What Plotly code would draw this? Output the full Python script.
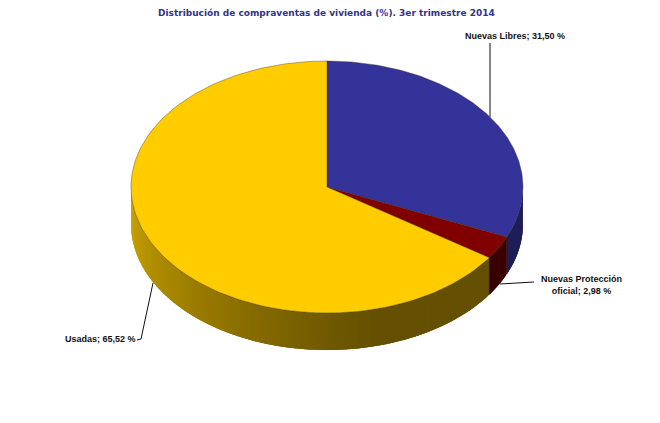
import numpy as np
import plotly.graph_objects as go

categories = ["Nuevas Libres", "Nuevas Protección oficial", "Usadas"]
values = [31.50, 2.98, 65.52]
value_labels = ["31,50 %", "2,98 %", "65,52 %"]
title_text = "Distribución de compraventas de vivienda (%). 3er trimestre 2014"

top_colors = ["#333399", "#800000", "#ffcc00"]
# side shade per slice: colour at 90 deg (right) and at 270 deg (left)
side_dark = {0: (30, 30, 88), 1: (58, 0, 0), 2: (100, 80, 0)}
side_light = {0: (30, 30, 88), 1: (58, 0, 0), 2: (208, 167, 0)}

# pie geometry, in page pixels
CX, CY, RX, RY, DEPTH = 327, 187, 196, 126, 37
# the page body has an 8px margin, so the plot starts at 8,8
PAGE_MARGIN = 8


def rim(t_deg):
    t = np.radians(t_deg)
    return CX + RX * np.sin(t), CY - RY * np.cos(t)


fig = go.Figure()

# slice angles from the values, clockwise from 12 o'clock
edges = np.concatenate([[0], np.cumsum(values)]) * 360 / sum(values)

# side wall, drawn as overlapping thin bands to get the gradient without seams
for i in range(len(values)):
    lo, hi = max(edges[i], 90), min(edges[i + 1], 270)
    if hi <= lo:
        continue
    steps = np.append(np.arange(lo, hi, 1.0), hi)
    for a, b in zip(steps[:-1], steps[1:]):
        ts = np.linspace(a, min(b + 1.5, hi), 4)
        x, y = rim(ts)
        mid = (a + b) / 2
        # stays dark until about the bottom, then brightens towards the left
        k = np.clip((mid - 165) / 105, 0, 1) ** 1.1
        rgb = [int(d + (l - d) * k) for d, l in zip(side_dark[i], side_light[i])]
        col = f"rgb({rgb[0]},{rgb[1]},{rgb[2]})"
        fig.add_trace(go.Scatter(
            x=np.concatenate([x, x[::-1]]),
            y=np.concatenate([y, y[::-1] + DEPTH]),
            mode="lines", fill="toself", fillcolor=col,
            line=dict(color=col, width=0), hoverinfo="skip",
        ))

# vertical dark edges on the wall where slices meet
for e in edges[1:3]:
    x, y = rim(e)
    fig.add_trace(go.Scatter(x=[x, x], y=[y, y + DEPTH], mode="lines",
                             line=dict(color="#2a1a10", width=0.4), hoverinfo="skip"))

# top face
for i, cat in enumerate(categories):
    ts = np.linspace(edges[i], edges[i + 1], 160)
    x, y = rim(ts)
    fig.add_trace(go.Scatter(
        x=np.concatenate([[CX], x, [CX]]),
        y=np.concatenate([[CY], y, [CY]]),
        mode="lines", fill="toself", fillcolor=top_colors[i],
        line=dict(color="#3a3018", width=0.4), name=cat,
        text=f"{cat}; {value_labels[i]}", hoverinfo="text",
    ))

# leader lines
leaders = [
    ([490, 490], [43, 117]),
    ([534, 500], [282, 284]),
    ([137, 141, 153], [340, 339, 283]),
]
for lx, ly in leaders:
    fig.add_trace(go.Scatter(x=lx, y=ly, mode="lines",
                             line=dict(color="#111111", width=1), hoverinfo="skip"))

label_font = dict(family="Liberation Sans", size=9, color="#111111")
fig.add_annotation(x=514.5, y=36, text=f"<b>{categories[0]}; {value_labels[0]}</b>",
                   showarrow=False, font=label_font)
fig.add_annotation(x=581, y=285, text=f"<b>Nuevas Protección<br>oficial; {value_labels[1]}</b>",
                   showarrow=False, font=label_font, align="center")
fig.add_annotation(x=100, y=339, text=f"<b>{categories[2]}; {value_labels[2]}</b>",
                   showarrow=False, font=label_font)
fig.add_annotation(x=326, y=13, text=f"<b>{title_text}</b>", showarrow=False,
                   font=dict(family="DejaVu Sans", size=9, color="#333388"))

fig.update_layout(
    width=660 - PAGE_MARGIN, height=423 - PAGE_MARGIN,
    margin=dict(l=0, r=0, t=0, b=0),
    paper_bgcolor="white", plot_bgcolor="white", showlegend=False,
    xaxis=dict(range=[PAGE_MARGIN, 660], visible=False, fixedrange=True),
    yaxis=dict(range=[423, PAGE_MARGIN], visible=False, fixedrange=True),
)

fig.write_html("out.html", config={"displayModeBar": False})
